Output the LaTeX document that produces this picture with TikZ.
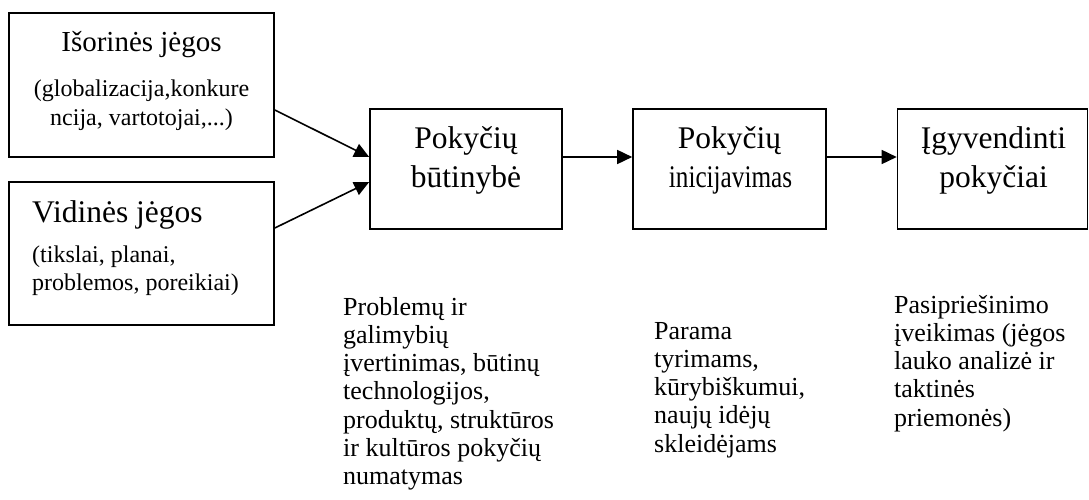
\documentclass[tikz,border=0pt]{standalone}
\usepackage{fontspec}
\setmainfont{Liberation Serif}
\usepackage{graphicx}
\usetikzlibrary{arrows.meta}
\newcommand\mylines[1]{\parbox[t]{300pt}{\raggedright\fontsize{26}{28.3}\selectfont #1}}
\tikzset{
  box/.style={draw, line width=1.6pt, inner sep=0pt},
  lbl/.style={inner sep=0pt, anchor=base},
  lblw/.style={inner sep=0pt, anchor=base west},
  arr/.style={line width=1.6pt, -{Triangle[length=15pt,width=14pt]}},
  big/.style={font=\fontsize{31.5}{36}\selectfont},
  mid/.style={font=\fontsize{29}{33}\selectfont},
  small/.style={font=\fontsize{24}{28}\selectfont},
}
\begin{document}
\begin{tikzpicture}[x=1pt,y=-1pt]
\useasboundingbox (0,0) rectangle (1089,500);
% boxes
\node[box, minimum width=265pt, minimum height=144pt] (b1) at (141.5,85) {};
\node[box, minimum width=265pt, minimum height=143pt] (b2) at (141.5,253.5) {};
\node[box, minimum width=192pt, minimum height=120pt] (b3) at (466,169) {};
\node[box, minimum width=193pt, minimum height=120pt] (b4) at (729.5,169) {};
\node[box, minimum width=190pt, minimum height=120pt] (b5) at (992.5,169) {};
% box texts
\node[lbl, mid] (t1) at (141.5,52) {Išorinės jėgos};
\node[lbl, small] (t1a) at (141.5,97) {(globalizacija,konkure};
\node[lbl, small] (t1b) at (141.5,125) {ncija, vartotojai,...)};
\node[lblw, big] (t2) at (32,222) {Vidinės jėgos};
\node[lblw, small] (t2a) at (32,262) {(tikslai, planai,};
\node[lblw, small] (t2b) at (32,290) {problemos, poreikiai)};
\node[lbl, big] (t3a) at (466,149) {Pokyčių};
\node[lbl, big] (t3b) at (466,187) {būtinybė};
\node[lbl, big] (t4a) at (729.5,149) {Pokyčių};
\node[lbl, big] (t4b) at (730.5,187) {\scalebox{0.8}[1]{inicijavimas}};
\node[lbl, big] (t5a) at (993.5,149) {Įgyvendinti};
\node[lbl, big] (t5b) at (993.5,187) {pokyčiai};
% arrows
\draw[arr] ([yshift=-25pt]b1.east) -- ([yshift=12pt]b3.west);
\draw[arr] ([yshift=25.5pt]b2.east) -- ([yshift=-13pt]b3.west);
\draw[arr] ([yshift=12pt]b3.east) -- ([yshift=12pt]b4.west);
\draw[arr] ([yshift=12pt]b4.east) -- ([yshift=12pt]b5.west);
% lower texts
\node[lblw] (d3) at (343,315) {\mylines{Problemų ir\\ galimybių\\ įvertinimas, būtinų\\ technologijos,\\ produktų, struktūros\\ ir kultūros pokyčių\\ numatymas}};
\node[lblw] (d4) at (654,339) {\mylines{Parama\\ tyrimams,\\ kūrybiškumui,\\ naujų idėjų\\ skleidėjams}};
\node[lblw] (d5) at (894,313) {\mylines{Pasipriešinimo\\ įveikimas (jėgos\\ lauko analizė ir\\ taktinės\\ priemonės)}};
\end{tikzpicture}
\end{document}
